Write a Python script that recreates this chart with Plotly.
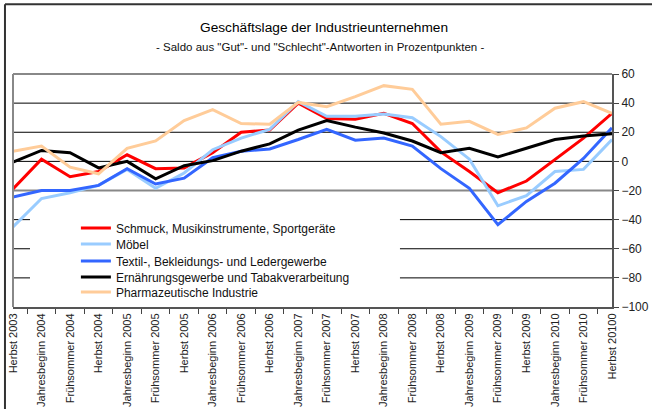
import plotly.graph_objects as go

categories = ["Herbst 2003", "Jahresbeginn 2004", "Frühsommer 2004", "Herbst 2004",
              "Jahresbeginn 2005", "Frühsommer 2005", "Herbst 2005", "Jahresbeginn 2006",
              "Frühsommer 2006", "Herbst 2006", "Jahresbeginn 2007", "Frühsommer 2007",
              "Herbst 2007", "Jahresbeginn 2008", "Frühsommer 2008", "Herbst 2008",
              "Jahresbeginn 2009", "Frühsommer 2009", "Herbst 2009", "Jahresbeginn 2010",
              "Frühsommer 2010", "Herbst 20100"]

schmuck = [-19, 1.5, -10.5, -7, 4.5, -5, -4.5, 6, 20, 21.5, 40, 29.5, 29, 33, 26, 6.5,
           -7, -21.5, -13.5, 1.5, 16, 33]
moebel = [-45, -25.5, -21.5, -16.5, -5.5, -18.5, -8, 8, 16, 22, 41, 31, 31, 32.5, 30, 17,
          1.5, -30.5, -23.5, -7, -5.5, 15]
textil = [-24.5, -20, -20, -16.5, -5, -15.5, -11.5, 2.5, 7, 8.5, 15, 22, 14.5, 16, 10.5, -5,
          -18.5, -43.5, -27.5, -15, 2, 23]
ernaehrung = [-0.5, 7.5, 6, -4.5, 0, -12, -3, 0.5, 7, 12, 21.5, 28, 23.5, 19.5, 14, 6,
              9, 3, 9, 15, 17.5, 19]
pharma = [7, 10.5, -4, -8.5, 9, 14, 28, 35.5, 26, 25.5, 40.5, 37.5, 44.5, 52, 49.5, 25.5,
          27.5, 18.5, 23, 36.5, 41, 33]

series_names = ["Schmuck, Musikinstrumente, Sportgeräte", "Möbel",
                "Textil-, Bekleidungs- und Ledergewerbe",
                "Ernährungsgewerbe und Tabakverarbeitung", "Pharmazeutische Industrie"]
series_values = [schmuck, moebel, textil, ernaehrung, pharma]
series_colors = ["#FF0000", "#99CCFF", "#3366FF", "#000000", "#FFCC99"]

y_ticks = [60, 40, 20, 0, -20, -40, -60, -80, -100]
grid_full = [40, 20, 0]
grid_grey = [-20]
grid_partial = [-40, -60, -80]

FONT = "Liberation Sans, Arial, sans-serif"

# plot area in pixels: x 13..612, y 74..307
legend_y = [0.339, 0.270, 0.197, 0.129, 0.064]
legend_ids = ["legend", "legend2", "legend3", "legend4", "legend5"]

fig = go.Figure()
for name, vals, col, lid in zip(series_names, series_values, series_colors, legend_ids):
    fig.add_trace(go.Scatter(x=categories, y=vals, name=name, mode="lines",
                             line=dict(color=col, width=3), legend=lid))

legend_common = dict(x=0.105, xanchor="left", yanchor="middle",
                     bgcolor="rgba(0,0,0,0)", font=dict(family=FONT, size=12, color="#111"),
                     itemwidth=30)
legend_layout = {lid: dict(y=ly, **legend_common) for lid, ly in zip(legend_ids, legend_y)}

shapes = []
for g in grid_full:
    shapes.append(dict(type="line", xref="paper", yref="y", x0=0, x1=1, y0=g, y1=g,
                       line=dict(color="#000", width=1), layer="below"))
for g in grid_grey:
    shapes.append(dict(type="line", xref="paper", yref="y", x0=0, x1=1, y0=g, y1=g,
                       line=dict(color="#888", width=2), layer="below"))
for g in grid_partial:
    # gridline interrupted by the legend box
    shapes.append(dict(type="line", xref="paper", yref="y", x0=0, x1=0.0284, y0=g, y1=g,
                       line=dict(color="#000", width=1), layer="below"))
    shapes.append(dict(type="line", xref="paper", yref="y", x0=0.646, x1=1, y0=g, y1=g,
                       line=dict(color="#000", width=1), layer="below"))
shapes += [
    # top and left plot border
    dict(type="line", xref="paper", yref="paper", x0=0, x1=1, y0=1, y1=1,
         line=dict(color="#888", width=2), layer="above"),
    dict(type="line", xref="paper", yref="paper", x0=0, x1=0, y0=0, y1=1,
         line=dict(color="#888", width=2), layer="above"),
    # outer chart frame (top and left)
    dict(type="line", xref="paper", yref="paper", x0=-0.0134, x1=1.07, y0=1.299, y1=1.299,
         line=dict(color="#333", width=2)),
    dict(type="line", xref="paper", yref="paper", x0=-0.0134, x1=-0.0134, y0=-0.44, y1=1.299,
         line=dict(color="#333", width=2)),
]

fig.update_layout(
    width=652, height=409,
    margin=dict(l=13, r=40, t=74, b=102, autoexpand=False),
    paper_bgcolor="white", plot_bgcolor="white",
    font=dict(family=FONT, size=12, color="#222"),
    showlegend=True,
    xaxis=dict(type="category", tickson="boundaries", ticks="outside", ticklen=5,
               tickcolor="#444", showline=True, linecolor="#555", linewidth=2,
               showgrid=False, tickangle=-90, automargin=False,
               tickfont=dict(size=11, color="#222")),
    yaxis=dict(side="right", range=[-100, 60], tickvals=y_ticks, ticks="outside",
               ticklen=5, tickcolor="#444", showline=True, linecolor="#555", linewidth=2,
               showgrid=False, zeroline=False, automargin=False,
               tickfont=dict(size=12, color="#222")),
    annotations=[
        dict(text="Geschäftslage der Industrieunternehmen", xref="paper", yref="paper",
             x=0.52, y=1.2017, xanchor="center", yanchor="middle", showarrow=False,
             font=dict(family=FONT, size=13.7, color="#000")),
        dict(text="- Saldo aus \"Gut\"- und \"Schlecht\"-Antworten in Prozentpunkten -",
             xref="paper", yref="paper", x=0.513, y=1.116, xanchor="center",
             yanchor="middle", showarrow=False,
             font=dict(family=FONT, size=11.5, color="#111")),
    ],
    shapes=shapes,
    **legend_layout,
)

fig.write_html("out.html", config={"displayModeBar": False},
               post_script="document.body.style.margin='0';")
